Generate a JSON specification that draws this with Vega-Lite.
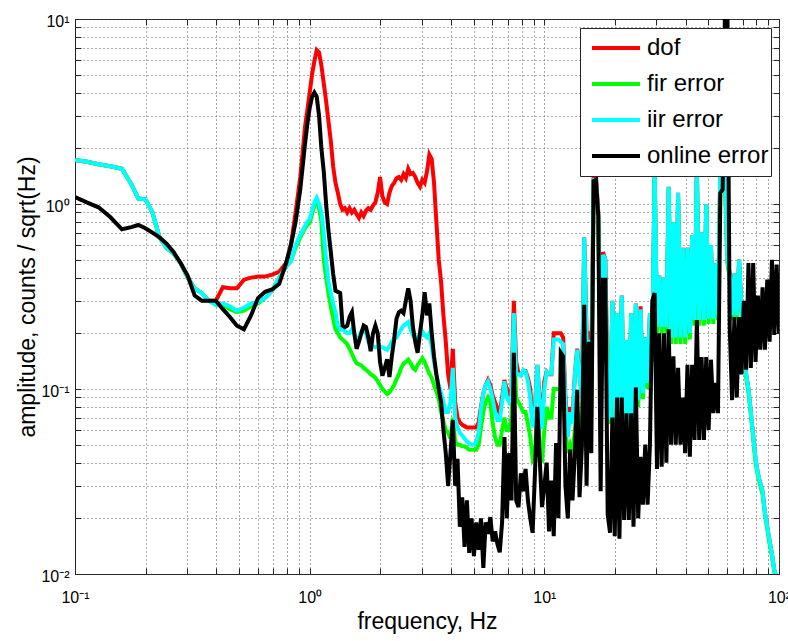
{
"$schema":"https://vega.github.io/schema/vega-lite/v6.json",
"width":704,"height":555,
"autosize":{"type":"none"},
"padding":{"left":75,"top":19,"right":9,"bottom":67},
"background":"white",
"config":{"view":{"stroke":"#262626","strokeWidth":1},"font":"Liberation Sans"},
"data":{"values":[
{"f":0.1,"dof":1.73,"fir":1.73,"iir":1.73,"online":1.09},
{"f":0.1122,"dof":1.69,"fir":1.69,"iir":1.69,"online":1.02},
{"f":0.1259,"dof":1.64,"fir":1.64,"iir":1.64,"online":0.96},
{"f":0.1413,"dof":1.6,"fir":1.6,"iir":1.6,"online":0.85},
{"f":0.1585,"dof":1.55,"fir":1.55,"iir":1.55,"online":0.73},
{"f":0.1738,"dof":1.28,"fir":1.28,"iir":1.28,"online":0.75},
{"f":0.1862,"dof":1.07,"fir":1.07,"iir":1.07,"online":0.77},
{"f":0.1995,"dof":1.06,"fir":1.06,"iir":1.06,"online":0.74},
{"f":0.2138,"dof":0.9,"fir":0.9,"iir":0.9,"online":0.7},
{"f":0.2291,"dof":0.66,"fir":0.66,"iir":0.66,"online":0.66},
{"f":0.2455,"dof":0.58,"fir":0.58,"iir":0.58,"online":0.61},
{"f":0.263,"dof":0.54,"fir":0.54,"iir":0.54,"online":0.55},
{"f":0.2818,"dof":0.48,"fir":0.48,"iir":0.48,"online":0.48},
{"f":0.302,"dof":0.4,"fir":0.4,"iir":0.4,"online":0.41},
{"f":0.3236,"dof":0.35,"fir":0.35,"iir":0.35,"online":0.32},
{"f":0.3467,"dof":0.33,"fir":0.33,"iir":0.33,"online":0.3},
{"f":0.3715,"dof":0.3,"fir":0.3,"iir":0.3,"online":0.3},
{"f":0.3981,"dof":0.3,"fir":0.285,"iir":0.285,"online":0.3},
{"f":0.4266,"dof":0.355,"fir":0.285,"iir":0.29,"online":0.27},
{"f":0.4571,"dof":0.35,"fir":0.27,"iir":0.28,"online":0.245},
{"f":0.4898,"dof":0.35,"fir":0.26,"iir":0.265,"online":0.22},
{"f":0.5248,"dof":0.39,"fir":0.265,"iir":0.275,"online":0.21},
{"f":0.5623,"dof":0.4,"fir":0.28,"iir":0.29,"online":0.25},
{"f":0.6026,"dof":0.405,"fir":0.29,"iir":0.295,"online":0.31},
{"f":0.6457,"dof":0.405,"fir":0.31,"iir":0.31,"online":0.335},
{"f":0.6918,"dof":0.415,"fir":0.34,"iir":0.34,"online":0.345},
{"f":0.7413,"dof":0.43,"fir":0.4,"iir":0.4,"online":0.37},
{"f":0.7943,"dof":0.48,"fir":0.46,"iir":0.46,"online":0.48},
{"f":0.8318,"dof":0.6,"fir":0.49,"iir":0.49,"online":0.6},
{"f":0.871,"dof":0.9,"fir":0.58,"iir":0.6,"online":0.8},
{"f":0.912,"dof":1.4,"fir":0.66,"iir":0.68,"online":1.2},
{"f":0.955,"dof":2.6,"fir":0.74,"iir":0.76,"online":2.1},
{"f":0.9772,"dof":3.2,"fir":0.77,"iir":0.8,"online":2.7},
{"f":1.0,"dof":4.0,"fir":0.79,"iir":0.83,"online":3.3},
{"f":1.0233,"dof":5.0,"fir":0.88,"iir":0.92,"online":3.8},
{"f":1.0471,"dof":5.9,"fir":0.98,"iir":1.02,"online":4.0},
{"f":1.0715,"dof":6.8,"fir":1.05,"iir":1.08,"online":3.8},
{"f":1.0965,"dof":6.6,"fir":0.95,"iir":1.0,"online":3.0},
{"f":1.122,"dof":5.6,"fir":0.8,"iir":0.9,"online":2.0},
{"f":1.1482,"dof":4.5,"fir":0.5,"iir":0.7,"online":1.5},
{"f":1.1749,"dof":3.6,"fir":0.4,"iir":0.5,"online":1.0},
{"f":1.2023,"dof":2.8,"fir":0.33,"iir":0.38,"online":0.72},
{"f":1.2303,"dof":2.2,"fir":0.28,"iir":0.33,"online":0.55},
{"f":1.2589,"dof":1.6,"fir":0.24,"iir":0.29,"online":0.42},
{"f":1.2882,"dof":1.3,"fir":0.21,"iir":0.26,"online":0.34},
{"f":1.3183,"dof":1.15,"fir":0.2,"iir":0.22,"online":0.335},
{"f":1.349,"dof":1.0,"fir":0.19,"iir":0.21,"online":0.33},
{"f":1.3804,"dof":0.93,"fir":0.185,"iir":0.21,"online":0.22},
{"f":1.4125,"dof":0.95,"fir":0.18,"iir":0.205,"online":0.216},
{"f":1.4454,"dof":0.9,"fir":0.175,"iir":0.2,"online":0.22},
{"f":1.4791,"dof":0.95,"fir":0.165,"iir":0.2,"online":0.245},
{"f":1.5136,"dof":0.9,"fir":0.155,"iir":0.21,"online":0.26},
{"f":1.5488,"dof":0.93,"fir":0.145,"iir":0.2,"online":0.2},
{"f":1.5849,"dof":0.88,"fir":0.138,"iir":0.185,"online":0.165},
{"f":1.6218,"dof":0.84,"fir":0.136,"iir":0.19,"online":0.18},
{"f":1.6596,"dof":0.9,"fir":0.134,"iir":0.205,"online":0.2},
{"f":1.6982,"dof":0.86,"fir":0.13,"iir":0.21,"online":0.22},
{"f":1.7378,"dof":0.92,"fir":0.127,"iir":0.2,"online":0.216},
{"f":1.7783,"dof":0.95,"fir":0.124,"iir":0.18,"online":0.19},
{"f":1.8197,"dof":0.93,"fir":0.12,"iir":0.175,"online":0.16},
{"f":1.8621,"dof":0.98,"fir":0.118,"iir":0.17,"online":0.2},
{"f":1.9055,"dof":1.02,"fir":0.115,"iir":0.168,"online":0.22},
{"f":1.9498,"dof":1.15,"fir":0.11,"iir":0.168,"online":0.2},
{"f":1.9953,"dof":1.4,"fir":0.105,"iir":0.17,"online":0.14},
{"f":2.0417,"dof":1.1,"fir":0.1,"iir":0.168,"online":0.118},
{"f":2.0893,"dof":1.02,"fir":0.097,"iir":0.165,"online":0.13},
{"f":2.138,"dof":1.0,"fir":0.094,"iir":0.163,"online":0.145},
{"f":2.1878,"dof":1.15,"fir":0.096,"iir":0.17,"online":0.116},
{"f":2.2387,"dof":1.25,"fir":0.1,"iir":0.18,"online":0.15},
{"f":2.2909,"dof":1.3,"fir":0.105,"iir":0.187,"online":0.185},
{"f":2.3442,"dof":1.38,"fir":0.113,"iir":0.19,"online":0.24},
{"f":2.3988,"dof":1.4,"fir":0.12,"iir":0.2,"online":0.26},
{"f":2.4547,"dof":1.35,"fir":0.13,"iir":0.21,"online":0.265},
{"f":2.5119,"dof":1.45,"fir":0.137,"iir":0.22,"online":0.257},
{"f":2.5704,"dof":1.38,"fir":0.14,"iir":0.225,"online":0.3},
{"f":2.6303,"dof":1.55,"fir":0.144,"iir":0.23,"online":0.35},
{"f":2.6915,"dof":1.45,"fir":0.138,"iir":0.21,"online":0.3},
{"f":2.7542,"dof":1.47,"fir":0.13,"iir":0.195,"online":0.216},
{"f":2.8184,"dof":1.4,"fir":0.127,"iir":0.185,"online":0.18},
{"f":2.884,"dof":1.3,"fir":0.135,"iir":0.188,"online":0.157},
{"f":2.9512,"dof":1.24,"fir":0.14,"iir":0.2,"online":0.2},
{"f":3.02,"dof":1.35,"fir":0.147,"iir":0.205,"online":0.25},
{"f":3.0903,"dof":1.3,"fir":0.14,"iir":0.195,"online":0.334},
{"f":3.1623,"dof":1.5,"fir":0.13,"iir":0.19,"online":0.25},
{"f":3.2359,"dof":1.85,"fir":0.121,"iir":0.2,"online":0.29},
{"f":3.3113,"dof":1.75,"fir":0.115,"iir":0.17,"online":0.2},
{"f":3.3884,"dof":1.3,"fir":0.105,"iir":0.14,"online":0.15},
{"f":3.4674,"dof":0.8,"fir":0.097,"iir":0.12,"online":0.12},
{"f":3.5481,"dof":0.5,"fir":0.088,"iir":0.105,"online":0.1},
{"f":3.6308,"dof":0.38,"fir":0.075,"iir":0.095,"online":0.085},
{"f":3.7154,"dof":0.25,"fir":0.067,"iir":0.085,"online":0.06},
{"f":3.8019,"dof":0.18,"fir":0.06,"iir":0.075,"online":0.045},
{"f":3.8905,"dof":0.12,"fir":0.058,"iir":0.075,"online":0.03},
{"f":3.9811,"dof":0.1,"fir":0.054,"iir":0.085,"online":0.045},
{"f":4.0738,"dof":0.165,"fir":0.07,"iir":0.13,"online":0.068},
{"f":4.1687,"dof":0.085,"fir":0.052,"iir":0.07,"online":0.03},
{"f":4.2658,"dof":0.07,"fir":0.05,"iir":0.062,"online":0.042},
{"f":4.3652,"dof":0.066,"fir":0.05,"iir":0.058,"online":0.018},
{"f":4.4668,"dof":0.064,"fir":0.049,"iir":0.056,"online":0.026},
{"f":4.5709,"dof":0.063,"fir":0.049,"iir":0.054,"online":0.014},
{"f":4.6774,"dof":0.062,"fir":0.048,"iir":0.052,"online":0.025},
{"f":4.7863,"dof":0.062,"fir":0.047,"iir":0.051,"online":0.013},
{"f":4.8978,"dof":0.062,"fir":0.047,"iir":0.05,"online":0.02},
{"f":5.0119,"dof":0.062,"fir":0.047,"iir":0.05,"online":0.0125},
{"f":5.1286,"dof":0.062,"fir":0.047,"iir":0.052,"online":0.019},
{"f":5.2481,"dof":0.066,"fir":0.05,"iir":0.058,"online":0.0135},
{"f":5.3703,"dof":0.08,"fir":0.062,"iir":0.078,"online":0.02},
{"f":5.4954,"dof":0.095,"fir":0.075,"iir":0.095,"online":0.0108},
{"f":5.6234,"dof":0.105,"fir":0.085,"iir":0.105,"online":0.019},
{"f":5.7544,"dof":0.112,"fir":0.09,"iir":0.11,"online":0.0165},
{"f":5.8884,"dof":0.105,"fir":0.085,"iir":0.1,"online":0.0203},
{"f":6.0256,"dof":0.092,"fir":0.065,"iir":0.088,"online":0.015},
{"f":6.166,"dof":0.085,"fir":0.055,"iir":0.075,"online":0.017},
{"f":6.3096,"dof":0.078,"fir":0.05,"iir":0.068,"online":0.0145},
{"f":6.4565,"dof":0.074,"fir":0.05,"iir":0.068,"online":0.0131},
{"f":6.6069,"dof":0.09,"fir":0.06,"iir":0.085,"online":0.019},
{"f":6.7608,"dof":0.112,"fir":0.07,"iir":0.11,"online":0.055},
{"f":6.9183,"dof":0.1,"fir":0.06,"iir":0.09,"online":0.02},
{"f":7.0795,"dof":0.095,"fir":0.06,"iir":0.085,"online":0.045},
{"f":7.2444,"dof":0.1,"fir":0.07,"iir":0.09,"online":0.025},
{"f":7.4131,"dof":0.3,"fir":0.2,"iir":0.257,"online":0.157},
{"f":7.5858,"dof":0.14,"fir":0.09,"iir":0.12,"online":0.025},
{"f":7.7625,"dof":0.121,"fir":0.085,"iir":0.12,"online":0.023},
{"f":7.9433,"dof":0.12,"fir":0.08,"iir":0.118,"online":0.035},
{"f":8.1283,"dof":0.125,"fir":0.075,"iir":0.127,"online":0.028},
{"f":8.3176,"dof":0.125,"fir":0.075,"iir":0.124,"online":0.037},
{"f":8.5114,"dof":0.115,"fir":0.065,"iir":0.11,"online":0.025},
{"f":8.7096,"dof":0.1,"fir":0.055,"iir":0.09,"online":0.02},
{"f":8.9125,"dof":0.065,"fir":0.042,"iir":0.062,"online":0.0167},
{"f":9.1201,"dof":0.08,"fir":0.045,"iir":0.075,"online":0.035},
{"f":9.3325,"dof":0.135,"fir":0.08,"iir":0.135,"online":0.08},
{"f":9.5499,"dof":0.09,"fir":0.05,"iir":0.085,"online":0.043},
{"f":9.7724,"dof":0.065,"fir":0.04,"iir":0.061,"online":0.023},
{"f":10.0,"dof":0.11,"fir":0.06,"iir":0.1,"online":0.03},
{"f":10.233,"dof":0.124,"fir":0.08,"iir":0.124,"online":0.04},
{"f":10.471,"dof":0.12,"fir":0.07,"iir":0.121,"online":0.017},
{"f":10.715,"dof":0.12,"fir":0.07,"iir":0.121,"online":0.032},
{"f":10.965,"dof":0.2,"fir":0.1,"iir":0.185,"online":0.016},
{"f":11.22,"dof":0.2,"fir":0.1,"iir":0.185,"online":0.051},
{"f":11.482,"dof":0.2,"fir":0.1,"iir":0.185,"online":0.02},
{"f":11.749,"dof":0.2,"fir":0.1,"iir":0.18,"online":0.157},
{"f":12.023,"dof":0.19,"fir":0.1,"iir":0.175,"online":0.15},
{"f":12.303,"dof":0.09,"fir":0.06,"iir":0.085,"online":0.03},
{"f":12.589,"dof":0.06,"fir":0.045,"iir":0.055,"online":0.02},
{"f":12.882,"dof":0.08,"fir":0.05,"iir":0.075,"online":0.047},
{"f":13.183,"dof":0.07,"fir":0.045,"iir":0.065,"online":0.025},
{"f":13.49,"dof":0.12,"fir":0.06,"iir":0.12,"online":0.045},
{"f":13.804,"dof":0.165,"fir":0.08,"iir":0.163,"online":0.099},
{"f":14.125,"dof":0.12,"fir":0.06,"iir":0.11,"online":0.026},
{"f":14.454,"dof":0.1,"fir":0.06,"iir":0.09,"online":0.049},
{"f":14.791,"dof":0.66,"fir":0.3,"iir":0.66,"online":0.285},
{"f":15.136,"dof":0.2,"fir":0.1,"iir":0.18,"online":0.03},
{"f":15.488,"dof":0.2,"fir":0.1,"iir":0.18,"online":0.18},
{"f":15.849,"dof":0.12,"fir":0.07,"iir":0.1,"online":0.045},
{"f":16.218,"dof":1.42,"fir":1.3,"iir":1.35,"online":1.33},
{"f":16.596,"dof":1.42,"fir":1.3,"iir":1.35,"online":1.35},
{"f":16.982,"dof":0.9,"fir":0.8,"iir":0.85,"online":0.86},
{"f":17.378,"dof":0.2,"fir":0.1,"iir":0.2,"online":0.028},
{"f":17.783,"dof":0.55,"fir":0.4,"iir":0.53,"online":0.39},
{"f":18.197,"dof":0.5,"fir":0.3,"iir":0.5,"online":0.39},
{"f":18.621,"dof":0.1,"fir":0.07,"iir":0.07,"online":0.021},
{"f":19.055,"dof":0.07,"fir":0.065,"iir":0.07,"online":0.0167},
{"f":19.498,"dof":0.3,"fir":0.29,"iir":0.3,"online":0.07},
{"f":19.953,"dof":0.07,"fir":0.065,"iir":0.07,"online":0.016},
{"f":20.417,"dof":0.257,"fir":0.25,"iir":0.257,"online":0.09},
{"f":20.893,"dof":0.07,"fir":0.065,"iir":0.07,"online":0.0155},
{"f":21.38,"dof":0.32,"fir":0.31,"iir":0.32,"online":0.09},
{"f":21.878,"dof":0.065,"fir":0.06,"iir":0.065,"online":0.0196},
{"f":22.387,"dof":0.184,"fir":0.18,"iir":0.184,"online":0.074},
{"f":22.909,"dof":0.065,"fir":0.06,"iir":0.065,"online":0.0196},
{"f":23.442,"dof":0.257,"fir":0.25,"iir":0.257,"online":0.074},
{"f":23.988,"dof":0.065,"fir":0.06,"iir":0.065,"online":0.018},
{"f":24.547,"dof":0.29,"fir":0.28,"iir":0.29,"online":0.102},
{"f":25.119,"dof":0.087,"fir":0.08,"iir":0.087,"online":0.02},
{"f":25.704,"dof":0.28,"fir":0.26,"iir":0.27,"online":0.043},
{"f":26.303,"dof":0.095,"fir":0.088,"iir":0.095,"online":0.0237},
{"f":26.915,"dof":0.19,"fir":0.185,"iir":0.19,"online":0.05},
{"f":27.542,"dof":0.108,"fir":0.1,"iir":0.108,"online":0.0237},
{"f":28.184,"dof":0.257,"fir":0.25,"iir":0.257,"online":0.05},
{"f":28.84,"dof":0.15,"fir":0.14,"iir":0.15,"online":0.3},
{"f":29.512,"dof":1.6,"fir":1.5,"iir":1.6,"online":0.33},
{"f":30.2,"dof":0.216,"fir":0.2,"iir":0.216,"online":0.037},
{"f":30.903,"dof":0.41,"fir":0.4,"iir":0.41,"online":0.2},
{"f":31.623,"dof":0.216,"fir":0.2,"iir":0.216,"online":0.038},
{"f":32.359,"dof":0.4,"fir":0.39,"iir":0.4,"online":0.2},
{"f":33.113,"dof":0.216,"fir":0.2,"iir":0.216,"online":0.04},
{"f":33.884,"dof":1.24,"fir":1.2,"iir":1.24,"online":0.21},
{"f":34.674,"dof":0.19,"fir":0.175,"iir":0.19,"online":0.05},
{"f":35.481,"dof":0.8,"fir":0.78,"iir":0.8,"online":0.15},
{"f":36.308,"dof":0.19,"fir":0.175,"iir":0.19,"online":0.05},
{"f":37.154,"dof":1.15,"fir":1.1,"iir":1.15,"online":0.13},
{"f":38.019,"dof":0.19,"fir":0.175,"iir":0.19,"online":0.05},
{"f":38.905,"dof":0.58,"fir":0.56,"iir":0.58,"online":0.09},
{"f":39.811,"dof":0.19,"fir":0.175,"iir":0.19,"online":0.045},
{"f":40.738,"dof":0.58,"fir":0.56,"iir":0.58,"online":0.135},
{"f":41.687,"dof":0.2,"fir":0.185,"iir":0.2,"online":0.043},
{"f":42.658,"dof":0.68,"fir":0.66,"iir":0.68,"online":0.135},
{"f":43.652,"dof":0.236,"fir":0.22,"iir":0.236,"online":0.053},
{"f":44.668,"dof":1.6,"fir":1.5,"iir":1.6,"online":0.236},
{"f":45.709,"dof":0.236,"fir":0.22,"iir":0.236,"online":0.053},
{"f":46.774,"dof":0.7,"fir":0.68,"iir":0.7,"online":0.149},
{"f":47.863,"dof":0.236,"fir":0.22,"iir":0.236,"online":0.053},
{"f":48.978,"dof":1.0,"fir":0.97,"iir":1.0,"online":0.149},
{"f":50.119,"dof":0.24,"fir":0.225,"iir":0.24,"online":0.06},
{"f":51.286,"dof":0.6,"fir":0.58,"iir":0.6,"online":0.144},
{"f":52.481,"dof":0.24,"fir":0.225,"iir":0.24,"online":0.074},
{"f":53.703,"dof":0.48,"fir":0.46,"iir":0.48,"online":0.108},
{"f":54.954,"dof":0.25,"fir":0.235,"iir":0.25,"online":0.074},
{"f":56.234,"dof":1.6,"fir":1.5,"iir":1.6,"online":1.15},
{"f":57.544,"dof":1.6,"fir":1.5,"iir":1.6,"online":1.2},
{"f":58.884,"dof":1.4,"fir":1.3,"iir":1.4,"online":12},
{"f":60.256,"dof":0.5,"fir":0.48,"iir":0.5,"online":12},
{"f":61.66,"dof":0.42,"fir":0.4,"iir":0.42,"online":0.216},
{"f":63.096,"dof":0.25,"fir":0.235,"iir":0.25,"online":0.087},
{"f":64.565,"dof":0.42,"fir":0.4,"iir":0.42,"online":0.245},
{"f":66.069,"dof":0.25,"fir":0.235,"iir":0.25,"online":0.09},
{"f":67.608,"dof":0.5,"fir":0.48,"iir":0.5,"online":0.245},
{"f":69.183,"dof":0.27,"fir":0.255,"iir":0.27,"online":0.12},
{"f":70.795,"dof":0.2,"fir":0.19,"iir":0.2,"online":0.3},
{"f":72.444,"dof":0.12,"fir":0.115,"iir":0.12,"online":0.127},
{"f":74.131,"dof":0.1,"fir":0.095,"iir":0.1,"online":0.48},
{"f":75.858,"dof":0.075,"fir":0.072,"iir":0.075,"online":0.13},
{"f":77.625,"dof":0.056,"fir":0.054,"iir":0.056,"online":0.48},
{"f":79.433,"dof":0.042,"fir":0.04,"iir":0.042,"online":0.14},
{"f":81.283,"dof":0.035,"fir":0.034,"iir":0.035,"online":0.32},
{"f":83.176,"dof":0.031,"fir":0.03,"iir":0.031,"online":0.163},
{"f":85.114,"dof":0.028,"fir":0.027,"iir":0.028,"online":0.355},
{"f":87.096,"dof":0.0215,"fir":0.021,"iir":0.0215,"online":0.163},
{"f":89.125,"dof":0.018,"fir":0.0175,"iir":0.018,"online":0.39},
{"f":91.201,"dof":0.015,"fir":0.0145,"iir":0.015,"online":0.18},
{"f":93.325,"dof":0.0128,"fir":0.0125,"iir":0.0128,"online":0.5},
{"f":95.499,"dof":0.0105,"fir":0.0102,"iir":0.0105,"online":0.196},
{"f":97.724,"dof":0.0095,"fir":0.0092,"iir":0.0095,"online":0.47},
{"f":100,"dof":0.0088,"fir":0.0085,"iir":0.0088,"online":0.2}
]},
"layer":[
{"mark":{"type":"line","strokeWidth":4,"clip":true},
 "encoding":{
  "x":{"field":"f","type":"quantitative","scale":{"type":"log","domain":[0.1,100],"nice":false},
   "axis":{"title":"frequency, Hz","values":[0.1,0.2,0.3,0.4,0.5,0.6,0.7,0.8,0.9,1,2,3,4,5,6,7,8,9,10,20,30,40,50,60,70,80,90,100],
    "labelExpr":"datum.value==0.1?'10⁻¹':datum.value==1?'10⁰':datum.value==10?'10¹':datum.value==100?'10²':''",
    "grid":true,"gridDash":[1,3],"gridColor":"#555","gridOpacity":1,"tickSize":-6,"tickColor":"#262626","domainColor":"#262626",
    "labelFontSize":16,"labelFont":"Liberation Sans","labelColor":"black","labelPadding":21,"labelFlush":false,"labelOverlap":false,
    "titleFontSize":23,"titleFont":"Liberation Sans","titleFontWeight":"normal","titleColor":"black","titleY":54,"titleBaseline":"alphabetic"}},
  "y":{"field":"dof","type":"quantitative","scale":{"type":"log","domain":[0.01,10],"nice":false},
   "axis":{"title":"amplitude, counts / sqrt(Hz)","values":[0.01,0.02,0.03,0.04,0.05,0.06,0.07,0.08,0.09,0.1,0.2,0.3,0.4,0.5,0.6,0.7,0.8,0.9,1,2,3,4,5,6,7,8,9,10],
    "labelExpr":"datum.value==0.01?'10⁻²':datum.value==0.1?'10⁻¹':datum.value==1?'10⁰':datum.value==10?'10¹':''",
    "grid":true,"gridDash":[1,3],"gridColor":"#555","gridOpacity":1,"tickSize":-6,"tickColor":"#262626","domainColor":"#262626",
    "labelFontSize":16,"labelFont":"Liberation Sans","labelColor":"black","labelPadding":12,"labelOffset":2,"labelFlush":false,"labelOverlap":false,
    "titleFontSize":23,"titleFont":"Liberation Sans","titleFontWeight":"normal","titleColor":"black","titleX":-41,"titleBaseline":"alphabetic"}},
  "color":{"datum":"dof","type":"nominal","scale":{"domain":["dof","fir error","iir error","online error"],"range":["#ff0000","#00ff00","#00ffff","#000000"]},
   "legend":{"orient":"none","legendX":505,"legendY":9,"title":null,"symbolType":"stroke","symbolSize":2304,"symbolStrokeWidth":4,"labelFontSize":24,"labelFont":"Liberation Sans","labelColor":"black","fillColor":"white","strokeColor":"#262626","padding":2,"clipHeight":36,"rowPadding":0,"symbolOffset":8,"labelOffset":5,"labelLimit":300}}
 }},
{"mark":{"type":"line","strokeWidth":4,"clip":true},
 "encoding":{
  "x":{"field":"f","type":"quantitative","axis":{"orient":"top","title":null,"labels":false,"grid":false,"domain":false,"values":[0.1,0.2,0.3,0.4,0.5,0.6,0.7,0.8,0.9,1,2,3,4,5,6,7,8,9,10,20,30,40,50,60,70,80,90,100],"tickSize":-6,"tickColor":"#262626"}},
  "y":{"field":"fir","type":"quantitative","axis":{"orient":"right","title":null,"labels":false,"grid":false,"domain":false,"values":[0.01,0.02,0.03,0.04,0.05,0.06,0.07,0.08,0.09,0.1,0.2,0.3,0.4,0.5,0.6,0.7,0.8,0.9,1,2,3,4,5,6,7,8,9,10],"tickSize":-6,"tickColor":"#262626"}},
  "color":{"datum":"fir error","type":"nominal"}
 }},
{"mark":{"type":"line","strokeWidth":4,"clip":true},
 "encoding":{
  "x":{"field":"f","type":"quantitative","axis":null},
  "y":{"field":"iir","type":"quantitative","axis":null},
  "color":{"datum":"iir error","type":"nominal"}
 }},
{"mark":{"type":"line","strokeWidth":4,"clip":true},
 "encoding":{
  "x":{"field":"f","type":"quantitative","axis":null},
  "y":{"field":"online","type":"quantitative","axis":null},
  "color":{"datum":"online error","type":"nominal"}
 }}
],
"resolve":{"axis":{"x":"independent","y":"independent"}}
}
